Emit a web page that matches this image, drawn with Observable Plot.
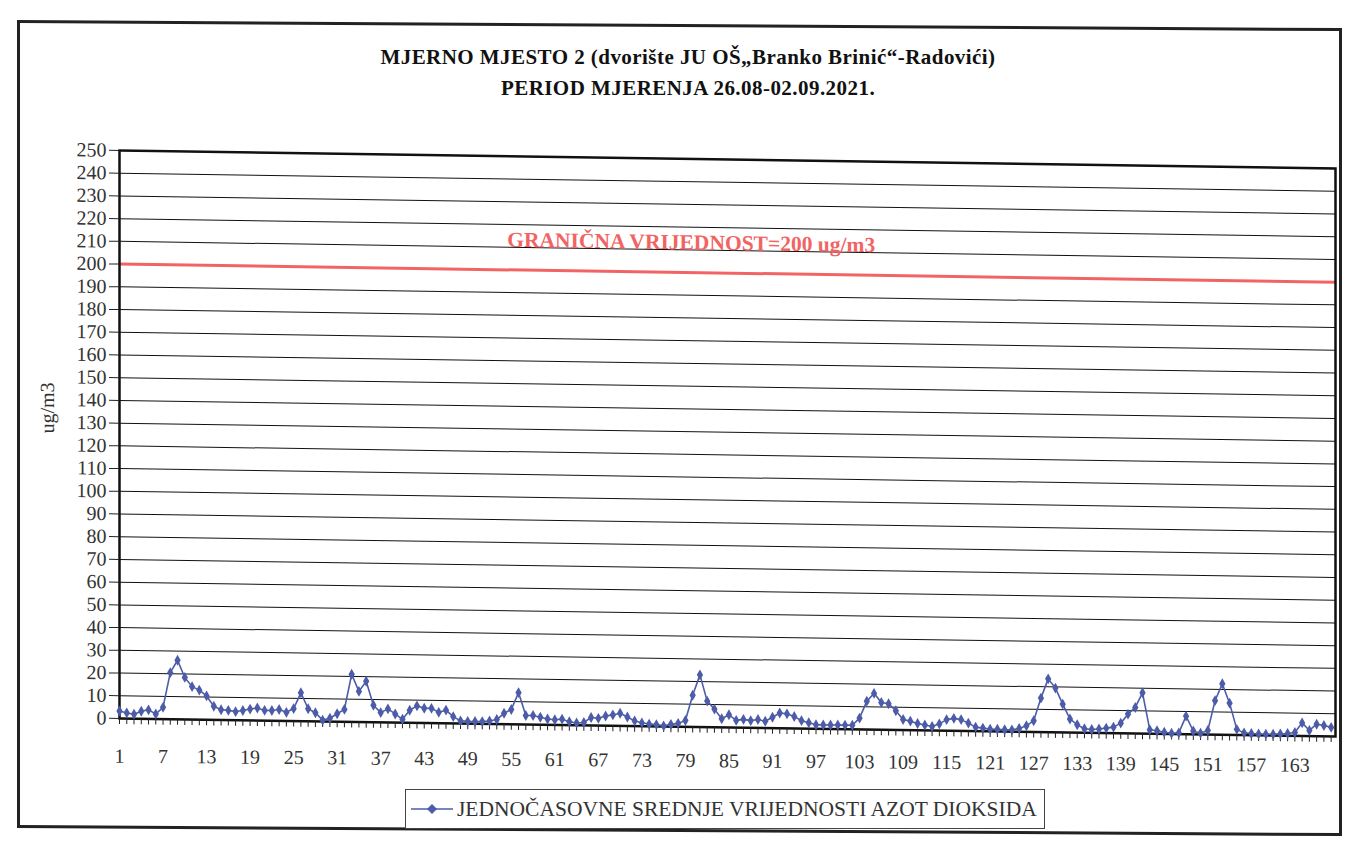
<!DOCTYPE html>
<html><head><meta charset="utf-8">
<script src="https://cdn.jsdelivr.net/npm/d3@7"></script>
<script src="https://cdn.jsdelivr.net/npm/@observablehq/plot@0.6"></script>
<style>
body{margin:0;background:#fff;width:1345px;height:842px;overflow:hidden;position:relative;font-family:"Liberation Serif","DejaVu Serif",serif;}
#frame{position:absolute;left:17px;top:20px;width:1325px;height:808px;border:3px solid #222;box-sizing:border-box;transform:skewY(0.35deg);transform-origin:0 0;}
#title{position:absolute;left:0;width:1376px;top:42px;text-align:center;font-weight:bold;font-size:21px;letter-spacing:0.45px;line-height:31px;color:#111;font-family:"Liberation Serif","DejaVu Serif",serif;}
#chart,#xlabels{position:absolute;left:0;top:130px;}
#chart svg{transform:skewY(0.85deg);transform-origin:120px 0;overflow:visible;}
#xlabels svg{transform:skewY(0.44deg);transform-origin:120px 0;overflow:visible;}
#legend{position:absolute;left:405px;top:789px;width:640px;height:40px;border:1.5px solid #444;box-sizing:border-box;display:flex;align-items:center;font-size:21.5px;color:#333;background:#fff;font-family:"Liberation Serif","DejaVu Serif",serif;white-space:nowrap;}
#legend svg{margin-left:4px;margin-right:3px;flex:none;}
</style></head>
<body>
<div id="frame"></div>
<div id="title">MJERNO MJESTO 2 (dvorište JU OŠ„Branko Brinić“-Radovići)<br>PERIOD MJERENJA 26.08-02.09.2021.</div>
<div id="chart"></div>
<div id="xlabels"></div>
<div id="legend"></div>
<script>
// hourly NO2 values, ug/m3, hours 1..168
const values = [
 3.3, 2.5, 2, 3.3, 4, 2.2, 5.2, 20.5, 26, 18.5, 14.5, 13, 10.5, 6, 4.5, 4.3, 3.8, 4.3, 5, 5.5,
 4.5, 4.5, 5, 3.8, 5.5, 12.5, 5.5, 3.8, 0.6, 1.5, 3.5, 5.5, 21, 13.5, 18, 7.5, 4.3, 6, 3.8, 1.5,
 5.5, 7.5, 6.5, 6.5, 4.8, 5.8, 3, 1.2, 1, 1, 1, 1.3, 2, 4.8, 6.5, 14, 4, 4, 3.3, 2.6,
 2.3, 2.6, 1.5, 1, 1.3, 3.5, 3.2, 4.3, 4.8, 5.6, 4, 2.3, 1.5, 1, 0.8, 0.3, 1, 1.5, 2.8, 14,
 23, 11.5, 8, 3.8, 5.6, 3.2, 3.7, 3.2, 3.7, 3, 4.8, 6.7, 6.4, 5.3, 3.5, 2.6, 1.8, 1.8, 1.8, 1.8,
 1.8, 1.8, 5, 12.5, 16, 12, 11.5, 8.5, 4.7, 4, 3, 2.4, 1.8, 3, 4.9, 5.5, 5, 3.5, 1.8, 1.4,
 1, 1, 0.8, 0.8, 1.5, 2.7, 5, 15, 23.5, 19.5, 12.5, 6, 3.5, 1.8, 1.5, 1.8, 2.2, 2.7, 4.5, 8.5,
 11.5, 18, 1.8, 1.4, 0.8, 0.4, 0.6, 8, 1.5, 0.6, 1.8, 15, 22.5, 14, 2.5, 1, 0.8, 0.6, 0.6, 0.6,
 0.8, 1, 1.5, 5.8, 2.5, 5.3, 4.8, 4
];
const hours = values.map((v, i) => i + 1);
const xTickLabels = [1, 7, 13, 19, 25, 31, 37, 43, 49, 55, 61, 67, 73, 79, 85, 91, 97, 103, 109, 115, 121, 127, 133, 139, 145, 151, 157, 163];
const yTicks = [0, 10, 20, 30, 40, 50, 60, 70, 80, 90, 100, 110, 120, 130, 140, 150, 160, 170, 180, 190, 200, 210, 220, 230, 240, 250];
const limitValue = 200;
const limitLabel = "GRANIČNA VRIJEDNOST=200 ug/m3";
const seriesName = "JEDNOČASOVNE SREDNJE VRIJEDNOSTI AZOT DIOKSIDA";
const yLabel = "ug/m3";

const lineColor = "#4d5ca8";
const limitColor = "#f26464";
const data = hours.map((h, i) => ({h, v: values[i]}));
const font = "'Liberation Serif', 'DejaVu Serif', serif";

const common = {
  width: 1345, height: 655,
  marginLeft: 119, marginRight: 10, marginTop: 20, marginBottom: 67,
  x: {domain: [1, 168.6]},
  style: {fontFamily: font, fontSize: "20px", color: "#333", background: "transparent"}
};

const chart = Plot.plot({
  ...common,
  y: {domain: [0, 250]},
  marks: [
    Plot.ruleY(yTicks, {stroke: "#111", strokeWidth: 1}),
    Plot.ruleY([limitValue], {stroke: limitColor, strokeWidth: 3}),
    Plot.text([limitLabel], {x: 79.8, y: limitValue, text: d => d, dy: -30, fill: limitColor, fontWeight: "bold", fontSize: 21.5}),
    Plot.frame({stroke: "#111", strokeWidth: 2.5}),
    Plot.axisY({ticks: yTicks, tickSize: 10, tickPadding: 3, label: null, stroke: "#222"}),
    Plot.axisX({ticks: hours, tickSize: 6, tickFormat: () => "", label: null, stroke: "#222"}),
    Plot.line(data, {x: "h", y: "v", stroke: lineColor, strokeWidth: 1.6}),
    Plot.dot(data, {x: "h", y: "v", symbol: "diamond", r: 3.3, fill: lineColor, stroke: "none"}),
    Plot.text([yLabel], {frameAnchor: "left", dx: -72, rotate: -90, fontSize: 20, fill: "#333"})
  ]
});
document.getElementById("chart").appendChild(chart);

const xl = Plot.plot({
  ...common,
  y: {domain: [0, 250], axis: null},
  marks: [
    Plot.axisX({ticks: xTickLabels, tickSize: 0, tickPadding: 30, label: null})
  ]
});
document.getElementById("xlabels").appendChild(xl);

const leg = document.getElementById("legend");
leg.innerHTML = `<svg width="44" height="20"><line x1="1" y1="10" x2="43" y2="10" stroke="${lineColor}" stroke-width="1.6"/><path d="M22,5 L27,10 L22,15 L17,10 Z" fill="${lineColor}"/></svg><span></span>`;
leg.querySelector("span").textContent = seriesName;
</script>
</body></html>
